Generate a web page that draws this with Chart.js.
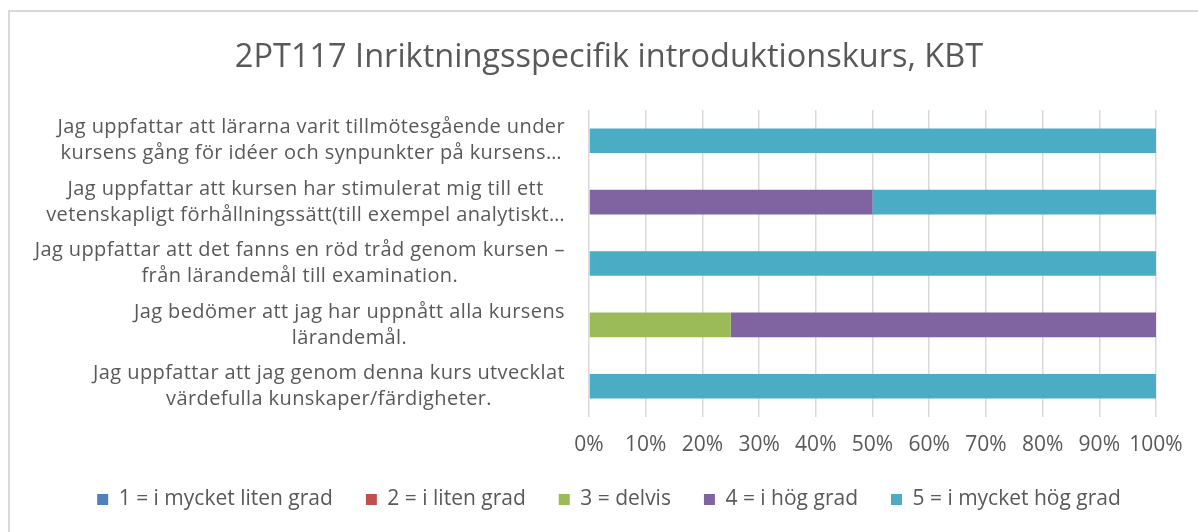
<!DOCTYPE html>
<html>
<head>
<meta charset="utf-8">
<script src="https://cdn.jsdelivr.net/npm/chart.js@4.4.1/dist/chart.umd.min.js"></script>
<style>
  html, body { margin: 0; padding: 0; background: #fff; overflow: hidden; }
  #frame {
    position: absolute; left: 8px; top: 10px;
    width: 1190px; height: 522px;
    border: 2px solid #d9d9d9;
    background: #fff;
  }
  #chart { display: block; }
</style>
</head>
<body>
<div id="frame"><canvas id="chart" width="1190" height="520"></canvas></div>
<script>
// --- DATA ---
const title = '2PT117 Inriktningsspecifik introduktionskurs, KBT';

const questions = [
    ['Jag uppfattar att lärarna varit tillmötesgående under', 'kursens gång för idéer och synpunkter på kursens…'],
    ['Jag uppfattar att kursen har stimulerat mig till ett', 'vetenskapligt förhållningssätt(till exempel analytiskt…'],
    ['Jag uppfattar att det fanns en röd tråd genom kursen –', 'från lärandemål till examination.'],
    ['Jag bedömer att jag har uppnått alla kursens', 'lärandemål.'],
    ['Jag uppfattar att jag genom denna kurs utvecklat', 'värdefulla kunskaper/färdigheter.']
];

const seriesNames = ['1 = i mycket liten grad', '2 = i liten grad', '3 = delvis', '4 = i hög grad', '5 = i mycket hög grad'];
const seriesColors = ['#4F81BD', '#C0504D', '#9BBB59', '#8064A2', '#4BACC6'];

// percent per question, top to bottom
const grade1 = [0, 0, 0, 0, 0];
const grade2 = [0, 0, 0, 0, 0];
const grade3 = [0, 0, 0, 25, 0];
const grade4 = [0, 50, 0, 75, 0];
const grade5 = [100, 50, 100, 0, 100];

const xTicks = [0, 10, 20, 30, 40, 50, 60, 70, 80, 90, 100];

const FONT = '"Open Sans", Lato, sans-serif';
const TEXT = '#595959';

// --- CENTERED MULTI-LINE CATEGORY LABELS (Excel style) ---
const centeredLabels = {
    id: 'centeredLabels',
    afterDraw(chart) {
        const y = chart.scales.y;
        const ctx = chart.ctx;
        const right = 555;
        const lineH = 26;
        ctx.save();
        ctx.font = '20px ' + FONT;
        ctx.letterSpacing = '0.4px';
        ctx.fillStyle = TEXT;
        ctx.textAlign = 'center';
        ctx.textBaseline = 'middle';
        questions.forEach((lines, i) => {
            const cy = y.getPixelForTick(i);
            const widest = Math.max(...lines.map(l => ctx.measureText(l).width));
            const cx = right - widest / 2;
            lines.forEach((l, j) => {
                ctx.fillText(l, cx, cy + (j - (lines.length - 1) / 2) * lineH);
            });
        });
        ctx.restore();
    }
};

const datasets = [grade1, grade2, grade3, grade4, grade5].map((d, i) => ({
    label: seriesNames[i],
    data: d,
    backgroundColor: seriesColors[i],
    borderWidth: 0,
    barPercentage: 0.4,
    categoryPercentage: 1
}));

new Chart(document.getElementById('chart'), {
    type: 'bar',
    data: { labels: questions, datasets: datasets },
    plugins: [centeredLabels],
    options: {
        indexAxis: 'y',
        responsive: false,
        animation: false,
        layout: { padding: { left: 52, right: 44, top: 0, bottom: 12 } },
        scales: {
            x: {
                stacked: true,
                min: 0,
                max: 100,
                afterBuildTicks: s => { s.ticks = xTicks.map(v => ({ value: v })); },
                afterFit: s => { s.height = 39; },
                ticks: {
                    callback: v => v + '%',
                    color: TEXT,
                    font: { family: FONT, size: 21 },
                    padding: 15,
                    maxRotation: 0
                },
                grid: { color: '#d9d9d9', lineWidth: 1.5, drawTicks: false },
                border: { display: false }
            },
            y: {
                stacked: true,
                afterFit: s => { s.width = 527; },
                ticks: { color: 'rgba(0,0,0,0)', font: { family: FONT, size: 18 } },
                grid: { display: false },
                border: { display: false }
            }
        },
        plugins: {
            title: {
                display: true,
                text: title,
                color: TEXT,
                font: { family: FONT, size: 32.5, weight: 'normal' },
                padding: { top: 26, bottom: 33 }
            },
            legend: {
                position: 'bottom',
                labels: {
                    color: TEXT,
                    font: { family: FONT, size: 21 },
                    boxWidth: 11,
                    boxHeight: 11,
                    padding: 33
                }
            },
            tooltip: { enabled: false }
        }
    }
});
</script>
</body>
</html>
